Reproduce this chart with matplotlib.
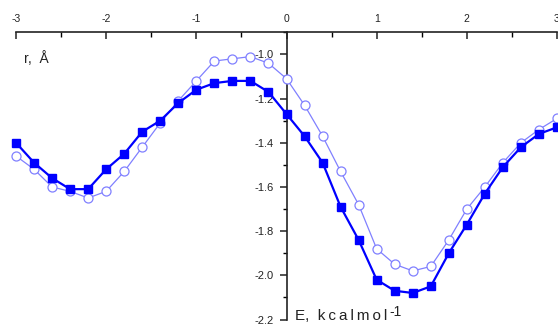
import matplotlib
matplotlib.use("Agg")
import matplotlib.pyplot as plt
from matplotlib.ticker import MultipleLocator

plt.rcParams['font.family'] = ['Liberation Sans', 'DejaVu Sans']

E = [-3.0, -2.8, -2.6, -2.4, -2.2, -2.0, -1.8, -1.6, -1.4, -1.2, -1.0,
     -0.8, -0.6, -0.4, -0.2, 0.0, 0.2, 0.4, 0.6, 0.8, 1.0,
     1.2, 1.4, 1.6, 1.8, 2.0, 2.2, 2.4, 2.6, 2.8, 3.0]

r_squares = [-1.40, -1.49, -1.56, -1.61, -1.61, -1.52, -1.45, -1.35, -1.30, -1.22, -1.16,
             -1.13, -1.12, -1.12, -1.17, -1.27, -1.37, -1.49, -1.69, -1.84, -2.02,
             -2.07, -2.08, -2.05, -1.90, -1.77, -1.63, -1.51, -1.42, -1.36, -1.33]

r_circles = [-1.46, -1.52, -1.60, -1.62, -1.65, -1.62, -1.53, -1.42, -1.31, -1.21, -1.12,
             -1.03, -1.02, -1.01, -1.04, -1.11, -1.23, -1.37, -1.53, -1.68, -1.88,
             -1.95, -1.98, -1.96, -1.84, -1.70, -1.60, -1.49, -1.40, -1.34, -1.29]

x_ticks = [-3, -2, -1, 0, 1, 2, 3]
y_ticks = [-2.2, -2.0, -1.8, -1.6, -1.4, -1.2, -1.0]

W, H = 558, 327
fig = plt.figure(figsize=(W / 100, H / 100), dpi=100)
ax = fig.add_axes([16 / W, 1 - 319.5 / H, 541 / W, (319.5 - 32.3) / H])

ax.plot(E, r_circles, color='#8080ff', lw=0.9, marker='o', ms=6.5,
        mfc='white', mec='#8080ff', mew=0.9, clip_on=False, zorder=3)
ax.plot(E, r_squares, color='#0000ff', lw=1.6, marker='s', ms=6,
        mfc='#0000ff', mec='#0000ff', clip_on=False, zorder=4)

ax.set_xlim(-3, 3)
ax.set_ylim(-2.2, -0.9)

ax.spines['right'].set_visible(False)
ax.spines['bottom'].set_visible(False)
ax.spines['left'].set_position(('data', 0))
for s in ('top', 'left'):
    ax.spines[s].set_linewidth(1.2)
    ax.spines[s].set_color('#222222')

ax.xaxis.set_ticks_position('top')
ax.set_xticks(x_ticks)
ax.set_xticklabels([f"{t:g}" for t in x_ticks])
ax.xaxis.set_minor_locator(MultipleLocator(0.5))
ax.tick_params(axis='x', which='major', direction='in', length=5, width=1.1,
               pad=6, labelsize=7.5, colors='#222222')
ax.tick_params(axis='x', which='minor', direction='in', length=3.5, width=1.0)

ax.set_yticks(y_ticks)
ax.set_yticklabels([f"{t:.1f}" for t in y_ticks])
ax.yaxis.set_minor_locator(MultipleLocator(0.1))
ax.tick_params(axis='y', which='major', direction='out', length=5, width=1.1,
               pad=4, labelsize=8, colors='#222222')
ax.tick_params(axis='y', which='minor', direction='out', length=3, width=1.0)

ax.patch.set_alpha(0)

fig.text(24 / W, 1 - 63 / H, "r,  Å", fontsize=10, color='#222222')
fig.text(295 / W, 1 - 320 / H,
         "E,  k\u2009c\u2009a\u2009l\u2009m\u2009o\u2009l",
         fontsize=11, color='#222222')
fig.text(389 / W, 1 - 316 / H, "-1", fontsize=10, color='#222222')

fig.savefig("out.png", dpi=100)
